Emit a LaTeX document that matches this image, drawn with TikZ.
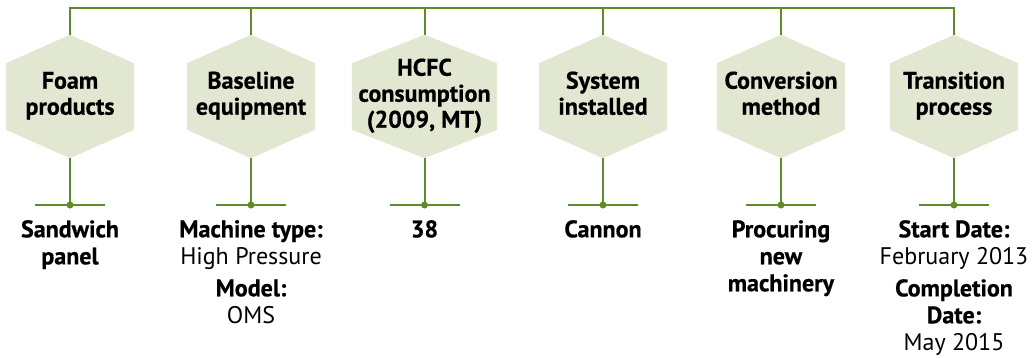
\documentclass[tikz,border=0pt]{standalone}
\usepackage{fontspec}
\setmainfont{PT Sans}[BoldFeatures={FakeBold=0.6}]
\usetikzlibrary{backgrounds}
\definecolor{lgreen}{HTML}{5E8C2C}
\definecolor{hexfill}{HTML}{E1E7D0}
\newcommand\hextext[1]{\raisebox{-4pt}{\begin{tabular}{@{}c@{}}#1\end{tabular}}}
\begin{document}
\begin{tikzpicture}[x=1pt,y=-1pt,
  hexnode/.style={minimum height=123pt, minimum width=128pt, inner sep=0pt,
    font=\bfseries\fontsize{24}{26}\selectfont},
  conn/.style={draw=lgreen, line width=2pt},
  dotnode/.style={circle, fill=lgreen, minimum size=7pt, inner sep=0pt},
  lowtxt/.style={anchor=north, inner sep=0pt, align=center, font=\fontsize{24}{27}\selectfont}]
\useasboundingbox (0,0) rectangle (1033,357);
% hexagon nodes
\node[hexnode] (h1) at (70,96.5) {\hextext{Foam\\products}};
\node[hexnode] (h2) at (251,96.5) {\hextext{Baseline\\equipment}};
\node[hexnode, minimum width=145pt] (h3) at (424.5,96.5) {\hextext{HCFC\\consumption\\(2009, MT)}};
\node[hexnode] (h4) at (603,96.5) {\hextext{System\\installed}};
\node[hexnode] (h5) at (781,96.5) {\hextext{Conversion\\method}};
\node[hexnode] (h6) at (954,96.5) {\hextext{Transition\\process}};
\begin{scope}[on background layer]
\foreach \n in {h1,h2,h3,h4,h5,h6}
  \fill[hexfill] (\n.north) -- ([yshift=-28.5pt]\n.north east) -- ([yshift=28.5pt]\n.south east)
    -- (\n.south) -- ([yshift=28.5pt]\n.south west) -- ([yshift=-28.5pt]\n.north west) -- cycle;
\end{scope}
% top connector
\coordinate (top) at (0,8);
\draw[conn] (h1.north) |- (top -| h6.north) -- (h6.north);
\foreach \n in {h2,h3,h4,h5}
  \draw[conn] (\n.north) -- (\n.north |- top);
% dots and bars
\foreach \n/\x in {1/70,2/251,3/424.5,4/603,5/781,6/954} {
  \node[dotnode] (d\n) at (\x,205) {};
  \draw[conn] (h\n.south) -- (d\n.center);
  \draw[conn] ([xshift=-35pt]d\n.center) -- ([xshift=35pt]d\n.center);
}
% lower texts
\node[lowtxt] (t1) at (70,220) {\textbf{Sandwich}\\\textbf{panel}};
\node[lowtxt] (t2) at (251,220) {\textbf{Machine type:}\\High Pressure\\[5pt]\textbf{Model:}\\OMS};
\node[lowtxt] (t3) at (424.5,220) {\textbf{38}};
\node[lowtxt] (t4) at (603,220) {\textbf{Cannon}};
\node[lowtxt] (t5) at (781,220) {\textbf{Procuring}\\\textbf{new}\\\textbf{machinery}};
\node[lowtxt] (t6) at (954,220) {\textbf{Start Date:}\\February 2013\\[5pt]\textbf{Completion}\\\textbf{Date:}\\May 2015};
\end{tikzpicture}
\end{document}
